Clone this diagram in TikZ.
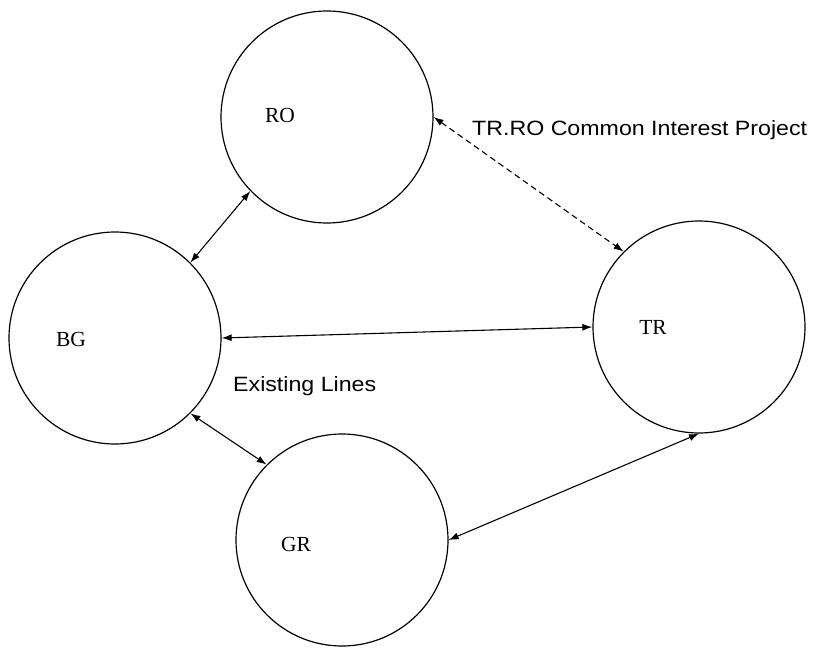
\documentclass[tikz,border=0pt]{standalone}
\usepackage{fontspec}
\setmainfont{Liberation Serif}
\newfontfamily\notefont[FakeStretch=1.12]{Liberation Sans}
\usetikzlibrary{arrows.meta}
\tikzset{
	country/.style={draw=black,circle,minimum size=212pt,inner sep=0pt,line width=1.2pt},
	tag/.style={inner sep=0pt,font=\fontsize{21.5}{25}\selectfont},
	note/.style={inner sep=0pt,anchor=west,font=\notefont\fontsize{20.7}{25}\selectfont},
	link/.style={line width=1.1pt,{Latex[length=10pt,width=7pt]}-{Latex[length=10pt,width=7pt]}},
}

\begin{document}
\begin{tikzpicture}[x=1pt,y=-1pt]
	\useasboundingbox (0,0) rectangle (813,650);
	\node[country] (ro) at (327,117) {};
	\node[country] (bg) at (115,338) {};
	\node[country] (tr) at (699,327) {};
	\node[country] (gr) at (342,540) {};
	\node[tag] (rotag) at (280,115) {RO};
	\node[tag] (bgtag) at (71,339) {BG};
	\node[tag] (trtag) at (653,327) {TR};
	\node[tag] (grtag) at (296,544) {GR};
	\draw[link] (bg.45) -- (ro.224);
	\draw[link] (bg.0) -- (tr.180);
	\draw[link] (bg.-45) -- (gr.135);
	\draw[link] (gr.0) -- (tr.-90);
	\draw[link,dash pattern=on 6pt off 4pt] (ro.0) -- (tr.135);
	\node[note] (project) at (472,130) {TR.RO Common Interest Project};
	\node[note] (existing) at (233,386) {Existing Lines};
\end{tikzpicture}
\end{document}
